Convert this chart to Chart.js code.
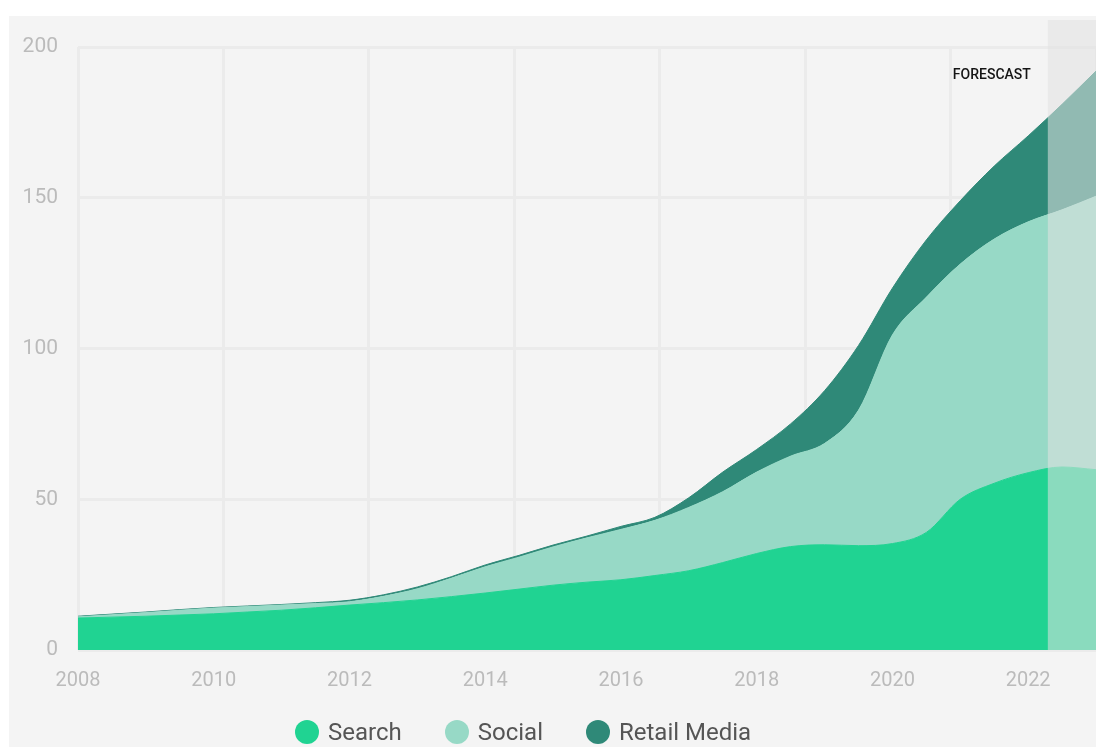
<!DOCTYPE html>
<html>
<head>
<meta charset="utf-8">
<script src="https://cdn.jsdelivr.net/npm/chart.js@4.4.1/dist/chart.umd.min.js"></script>
<style>
  html, body { margin: 0; padding: 0; background: #ffffff; overflow: hidden; }
  #wrap { position: relative; width: 1096px; height: 747px; }
  #c { position: absolute; left: 0; top: 0; }
  #legend { position: absolute; left: 295px; top: 718px; display: flex; align-items: center;
            font-family: Roboto, "Noto Sans", sans-serif; font-size: 24px; color: #555555; }
  .item { display: flex; align-items: center; margin-right: 43px; }
  .dot { width: 24px; height: 24px; border-radius: 50%; margin-right: 9px; }
</style>
</head>
<body>
<div id="wrap">
  <canvas id="c" width="1096" height="747"></canvas>
  <div id="legend"></div>
</div>
<script>
// ---- data ----
const years = [2008, 2008.5, 2009, 2009.5, 2010, 2010.5, 2011, 2011.5, 2012, 2012.5,
               2013, 2013.5, 2014, 2014.5, 2015, 2015.5, 2016, 2016.5, 2017, 2017.5,
               2018, 2018.5, 2019, 2019.5, 2020, 2020.5, 2021, 2021.5, 2022, 2022.5, 2023];
const searchValues = [10.6, 10.9, 11.2, 11.6, 12.0, 12.6, 13.2, 14.0, 14.9, 15.7,
                      16.6, 17.7, 18.9, 20.2, 21.5, 22.5, 23.3, 24.7, 26.3, 29.0,
                      32.0, 34.3, 34.9, 34.6, 35.3, 39.0, 50.0, 55.3, 58.8, 60.7, 59.8];
const socialValues = [0.4, 0.8, 1.2, 1.6, 1.9, 1.8, 1.7, 1.4, 1.1, 2.1,
                      3.7, 6.1, 8.7, 10.6, 12.7, 14.7, 16.7, 18.3, 21.0, 23.5,
                      27.0, 30.0, 33.6, 44.9, 69.2, 78.0, 78.0, 81.0, 83.2, 85.3, 90.7];
const retailValues = [0.2, 0.2, 0.2, 0.2, 0.2, 0.2, 0.2, 0.3, 0.5, 0.5,
                      0.6, 0.5, 0.6, 0.6, 0.6, 0.6, 1.0, 1.0, 3.2, 6.5,
                      7.5, 10.7, 17.5, 21.5, 15.5, 19.0, 21.0, 24.2, 28.5, 35.0, 41.5];
const seriesNames = ["Search", "Social", "Retail Media"];
const xTickYears = [2008, 2010, 2012, 2014, 2016, 2018, 2020, 2022];
const yTickValues = [0, 50, 100, 150, 200];
const forecastStart = 2022.29;
const forecastLabel = "FORESCAST";

const colors = ["#20d392", "#97d9c6", "#2f8978"];

function pts(vals) { return years.map((x, i) => ({ x: x, y: vals[i] })); }

const bgPlugin = {
  id: 'bg',
  beforeDraw(chart) {
    const ctx = chart.ctx;
    ctx.save();
    ctx.fillStyle = '#ffffff';
    ctx.fillRect(0, 0, chart.width, chart.height);
    ctx.fillStyle = '#f4f4f4';
    ctx.fillRect(9, 16, chart.width - 9, chart.height - 16);
    ctx.restore();
  }
};

const forecastPlugin = {
  id: 'forecast',
  afterDatasetsDraw(chart) {
    const ctx = chart.ctx;
    const xs = chart.scales.x;
    const area = chart.chartArea;
    const x0 = xs.getPixelForValue(forecastStart);
    ctx.save();
    ctx.fillStyle = 'rgba(225,225,225,0.55)';
    ctx.fillRect(x0, 20, chart.width - x0, area.bottom - 20);
    ctx.fillStyle = '#151515';
    ctx.font = '500 14px Roboto, sans-serif';
    ctx.textAlign = 'right';
    ctx.textBaseline = 'middle';
    ctx.fillText(forecastLabel, x0 - 17, 75);
    ctx.restore();
  }
};

const chart = new Chart(document.getElementById('c'), {
  type: 'line',
  data: {
    datasets: [
      { label: seriesNames[0], data: pts(searchValues), backgroundColor: colors[0], borderColor: colors[0], fill: 'origin' },
      { label: seriesNames[1], data: pts(socialValues), backgroundColor: colors[1], borderColor: colors[1], fill: '-1' },
      { label: seriesNames[2], data: pts(retailValues), backgroundColor: colors[2], borderColor: colors[2], fill: '-1' }
    ]
  },
  options: {
    responsive: false,
    animation: false,
    devicePixelRatio: 1,
    layout: { padding: { left: 0, right: 0, top: 47, bottom: 55 } },
    elements: {
      point: { radius: 0, hoverRadius: 0 },
      line: { borderWidth: 1, cubicInterpolationMode: 'monotone' }
    },
    plugins: {
      legend: { display: false },
      tooltip: { enabled: false }
    },
    scales: {
      x: {
        type: 'linear',
        position: 'bottom',
        min: 2008,
        max: 2023,
        afterBuildTicks(scale) { scale.ticks = xTickYears.map(v => ({ value: v })); },
        afterFit(scale) { scale.height = 42; },
        grid: { display: false, drawTicks: false },
        border: { display: false },
        ticks: {
          color: '#bbbbbb',
          padding: 19,
          maxRotation: 0,
          autoSkip: false,
          font: { family: 'Roboto', size: 20 },
          callback: v => String(v)
        }
      },
      x2: {
        type: 'linear',
        position: 'bottom',
        min: 0,
        max: 7,
        afterFit(scale) { scale.height = 0; },
        grid: { color: '#ebebeb', lineWidth: 3, drawTicks: false },
        border: { display: false },
        ticks: { display: false, stepSize: 1 }
      },
      y: {
        stacked: true,
        min: 0,
        max: 200,
        afterBuildTicks(scale) { scale.ticks = yTickValues.map(v => ({ value: v })); },
        afterFit(scale) { scale.width = 78; },
        grid: { color: '#ebebeb', lineWidth: 3, drawTicks: false },
        border: { display: false },
        ticks: {
          color: '#bbbbbb',
          padding: 20,
          font: { family: 'Roboto', size: 21 }
        }
      }
    }
  },
  plugins: [bgPlugin, forecastPlugin]
});

// HTML legend built from the chart's datasets
const legendEl = document.getElementById('legend');
chart.data.datasets.forEach(ds => {
  const item = document.createElement('div');
  item.className = 'item';
  const dot = document.createElement('span');
  dot.className = 'dot';
  dot.style.background = ds.backgroundColor;
  const txt = document.createElement('span');
  txt.textContent = ds.label;
  item.appendChild(dot);
  item.appendChild(txt);
  legendEl.appendChild(item);
});
</script>
</body>
</html>
